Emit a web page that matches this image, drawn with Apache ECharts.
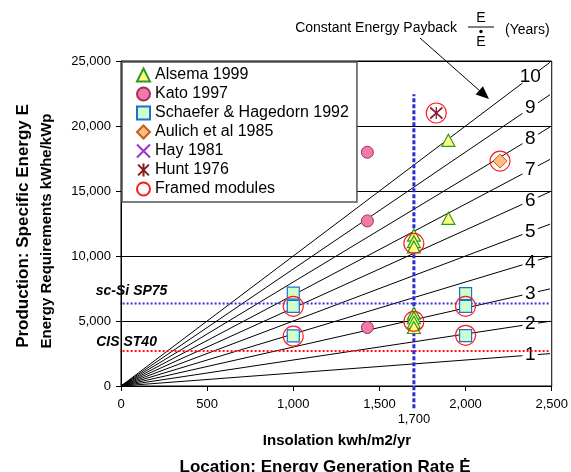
<!DOCTYPE html>
<html><head><meta charset="utf-8">
<script src="https://cdn.jsdelivr.net/npm/echarts/dist/echarts.min.js"></script>
<style>html,body{margin:0;padding:0;background:#fff}#c{width:571px;height:472px}</style>
</head><body><div id="c"></div>
<script>
// ---- data ----
const paybackYears = [1, 2, 3, 4, 5, 6, 7, 8, 9, 10];
const xTicks = [0, 500, 1000, 1500, 2000, 2500];
const yTicks = [0, 5000, 10000, 15000, 20000, 25000];

const alsemaX = [1700, 1700, 1700, 1700, 1700, 1700, 1700, 1900, 1900];
const alsemaY = [11600, 11100, 10700, 5600, 5250, 4900, 4500, 12900, 18900];
const katoX = [1430, 1430, 1430];
const katoY = [17980, 12700, 4500];
const schaeferX = [1000, 1000, 1000, 2000, 2000, 2000];
const schaeferY = [7150, 6130, 3850, 7100, 6130, 3880];
const aulichX = [2200];
const aulichY = [17300];
const hayX = [1830];
const hayY = [21000];
const huntX = [1830];
const huntY = [21000];
const framedX = [1830, 2200, 1700, 1000, 1000, 1700, 2000, 2000];
const framedY = [21000, 17300, 10970, 6130, 3830, 4970, 6130, 3900];

const scSiLevel = 6340;     // sc-Si SP75 requirement
const cisLevel = 2690;      // CIS ST40 requirement
const siteInsolation = 1700;
const siteLineTop = 22440;
const siteLineBottom = -1715;
const refLineStartX = -130;
const refLineEndX = 2490;

// ---- helpers ----
const FONT = "'Liberation Sans', Arial, sans-serif";
const pts = (xs, ys) => xs.map((x, i) => [x, ys[i]]);
const fmt = v => String(v).replace(/\B(?=(\d{3})+(?!\d))/g, ',');

const lineBreakA = 2330, labelAt = 2375, lineBreakB = 2420, lineEnd = 2490;

const series = [];
paybackYears.forEach(k => {
  series.push({type: 'line', data: [[0, 0], [lineBreakA, lineBreakA * k]], symbol: 'none', silent: true,
    lineStyle: {color: '#000', width: 1}, z: 1});
  series.push({type: 'line', data: [[lineBreakB, lineBreakB * k], [lineEnd, lineEnd * k]], symbol: 'none', silent: true,
    lineStyle: {color: '#000', width: 1}, z: 1});
});
series.push({type: 'scatter', silent: true, symbolSize: 1, itemStyle: {color: '#fff', opacity: 1}, z: 2,
  data: paybackYears.map(k => [labelAt, labelAt * k, k]),
  label: {show: true, position: 'inside', formatter: p => p.value[2], fontSize: 19, fontFamily: FONT,
    color: '#000', opacity: 1, textBorderWidth: 0}});

// reference dotted lines
series.push({type: 'line', clip: false, symbol: 'none', silent: true, z: 3,
  data: [[refLineStartX, scSiLevel], [refLineEndX, scSiLevel]],
  lineStyle: {color: '#3333cc', width: 2, type: [2, 2]}});
series.push({type: 'line', clip: false, symbol: 'none', silent: true, z: 3,
  data: [[refLineStartX, cisLevel], [refLineEndX, cisLevel]],
  lineStyle: {color: '#ff1111', width: 2, type: [2, 2]}});
series.push({type: 'line', clip: false, symbol: 'none', silent: true, z: 3,
  data: [[siteInsolation, siteLineBottom], [siteInsolation, siteLineTop]],
  lineStyle: {color: '#2b2bd6', width: 3, type: [4, 2]}});

// annotation labels anchored on the reference lines
series.push({type: 'scatter', clip: false, silent: true, symbolSize: 1, itemStyle: {color: '#fff', opacity: 1}, z: 4,
  data: [
    {value: [refLineStartX, scSiLevel], label: {formatter: 'sc-Si SP75', offset: [33, -12]}},
    {value: [refLineStartX, cisLevel], label: {formatter: 'CIS ST40', offset: [28, -9]}}
  ],
  label: {show: true, position: 'inside', fontSize: 14, fontWeight: 'bold', fontStyle: 'italic', fontFamily: FONT,
    color: '#000', opacity: 1, textBorderWidth: 0}});
series.push({type: 'scatter', clip: false, silent: true, symbolSize: 1, itemStyle: {color: '#fff', opacity: 1}, z: 4,
  data: [{value: [siteInsolation, 0], label: {formatter: fmt(siteInsolation)}}],
  label: {show: true, position: 'inside', offset: [0, 33], fontSize: 13, fontFamily: FONT, color: '#000', opacity: 1, textBorderWidth: 0}});

// data series
series.push({name: 'Alsema 1999', type: 'scatter', data: pts(alsemaX, alsemaY), symbol: 'triangle', symbolSize: [13, 12], z: 10,
  itemStyle: {color: '#ffff88', borderColor: '#2f9a1a', borderWidth: 1.2, opacity: 1}});
series.push({name: 'Kato 1997', type: 'scatter', data: pts(katoX, katoY), symbol: 'circle', symbolSize: 12, z: 10,
  itemStyle: {color: '#f27aab', borderColor: '#a0305a', borderWidth: 1, opacity: 1}});
series.push({name: 'Schaefer & Hagedorn 1992', type: 'scatter', data: pts(schaeferX, schaeferY), symbol: 'rect', symbolSize: 12, z: 10,
  itemStyle: {color: '#ccffcc', borderColor: '#1f6fd0', borderWidth: 1.2, opacity: 1}});
series.push({name: 'Aulich et al 1985', type: 'scatter', data: pts(aulichX, aulichY), symbol: 'diamond', symbolSize: 14, z: 10,
  itemStyle: {color: '#ffbb80', borderColor: '#c0601f', borderWidth: 1, opacity: 1}});
series.push({name: 'Hay 1981', type: 'scatter', data: pts(hayX, hayY), symbol: 'path://M0,0L10,10M10,0L0,10', symbolSize: 12, z: 11,
  itemStyle: {color: 'transparent', borderColor: '#9933cc', borderWidth: 1.3, opacity: 1}});
series.push({name: 'Hunt 1976', type: 'scatter', data: pts(huntX, huntY), symbol: 'path://M0,0L10,10M10,0L0,10M5,-1L5,11', symbolSize: 12, z: 11,
  itemStyle: {color: 'transparent', borderColor: '#8b1a1a', borderWidth: 1.3, opacity: 1}});
series.push({name: 'Framed modules', type: 'scatter', data: pts(framedX, framedY), symbol: 'circle', symbolSize: 20, z: 12,
  itemStyle: {color: 'rgba(0,0,0,0)', borderColor: '#ff1a1a', borderWidth: 1.2, opacity: 1}});

const legendNames = ['Alsema 1999', 'Kato 1997', 'Schaefer & Hagedorn 1992', 'Aulich et al 1985', 'Hay 1981', 'Hunt 1976', 'Framed modules'];

// arrow geometry (annotation)
const tip = [489, 99], from = [420, 38];
const dx = tip[0] - from[0], dy = tip[1] - from[1], L = Math.hypot(dx, dy);
const ux = dx / L, uy = dy / L, al = 13, aw = 5.5;
const base = [tip[0] - ux * al, tip[1] - uy * al];

const chart = echarts.init(document.getElementById('c'), null, {renderer: 'canvas'});
chart.setOption({
  animation: false,
  backgroundColor: '#fff',
  grid: {left: 121, top: 61, width: 432, height: 325, show: true, borderColor: '#000', borderWidth: 1, backgroundColor: 'transparent'},
  xAxis: {type: 'value', min: xTicks[0], max: xTicks[xTicks.length - 1], interval: 500,
    axisLine: {lineStyle: {color: '#000', width: 1}}, axisTick: {show: true, length: 5, lineStyle: {color: '#000'}},
    splitLine: {show: false},
    axisLabel: {formatter: fmt, fontSize: 13, fontFamily: FONT, color: '#000', margin: 12}},
  yAxis: {type: 'value', min: yTicks[0], max: yTicks[yTicks.length - 1], interval: 5000,
    axisLine: {show: true, lineStyle: {color: '#000', width: 1}}, axisTick: {show: true, length: 5, lineStyle: {color: '#000'}},
    splitLine: {show: true, lineStyle: {color: '#000', width: 1}},
    axisLabel: {formatter: fmt, fontSize: 13, fontFamily: FONT, color: '#000', margin: 10}},
  legend: {data: legendNames, orient: 'vertical', left: 122, top: 62, padding: [5, 8, 5, 14], itemGap: 3,
    itemWidth: 13, itemHeight: 13, backgroundColor: '#fff', borderColor: '#555', borderWidth: 1.5, z: 20,
    textStyle: {fontSize: 16, fontFamily: FONT, color: '#000', lineHeight: 16}},
  graphic: [
    {type: 'text', x: 457, y: 28, style: {text: 'Constant Energy Payback', font: '14px ' + FONT, fill: '#000', textAlign: 'right', textVerticalAlign: 'middle'}},
    {type: 'text', x: 481, y: 18, style: {text: 'E', font: '14px ' + FONT, fill: '#000', textAlign: 'center', textVerticalAlign: 'middle'}},
    {type: 'line', shape: {x1: 468, y1: 27, x2: 494, y2: 27}, style: {stroke: '#000', lineWidth: 1}},
    {type: 'circle', shape: {cx: 481, cy: 31.5, r: 1.7}, style: {fill: '#000'}},
    {type: 'text', x: 481, y: 42, style: {text: 'E', font: '14px ' + FONT, fill: '#000', textAlign: 'center', textVerticalAlign: 'middle'}},
    {type: 'text', x: 505, y: 30, style: {text: '(Years)', font: '14px ' + FONT, fill: '#000', textAlign: 'left', textVerticalAlign: 'middle'}},
    {type: 'line', shape: {x1: from[0], y1: from[1], x2: base[0], y2: base[1]}, style: {stroke: '#000', lineWidth: 1}},
    {type: 'polygon', shape: {points: [tip, [base[0] - uy * aw, base[1] + ux * aw], [base[0] + uy * aw, base[1] - ux * aw]]}, style: {fill: '#000'}},
    {type: 'text', x: 23, y: 226, rotation: Math.PI / 2, style: {text: 'Production: Specific Energy E', font: 'bold 17px ' + FONT, fill: '#000', textAlign: 'center', textVerticalAlign: 'middle'}},
    {type: 'text', x: 47, y: 231, rotation: Math.PI / 2, style: {text: 'Energy Requirements kWhe/kWp', font: 'bold 15px ' + FONT, fill: '#000', textAlign: 'center', textVerticalAlign: 'middle'}},
    {type: 'text', x: 337, y: 441, style: {text: 'Insolation kwh/m2/yr', font: 'bold 15px ' + FONT, fill: '#000', textAlign: 'center', textVerticalAlign: 'middle'}},
    {type: 'text', x: 325, y: 467, style: {text: 'Location: Energy Generation Rate \u0116', font: 'bold 17px ' + FONT, fill: '#000', textAlign: 'center', textVerticalAlign: 'middle'}}
  ],
  series: series
});
</script>
</body></html>
